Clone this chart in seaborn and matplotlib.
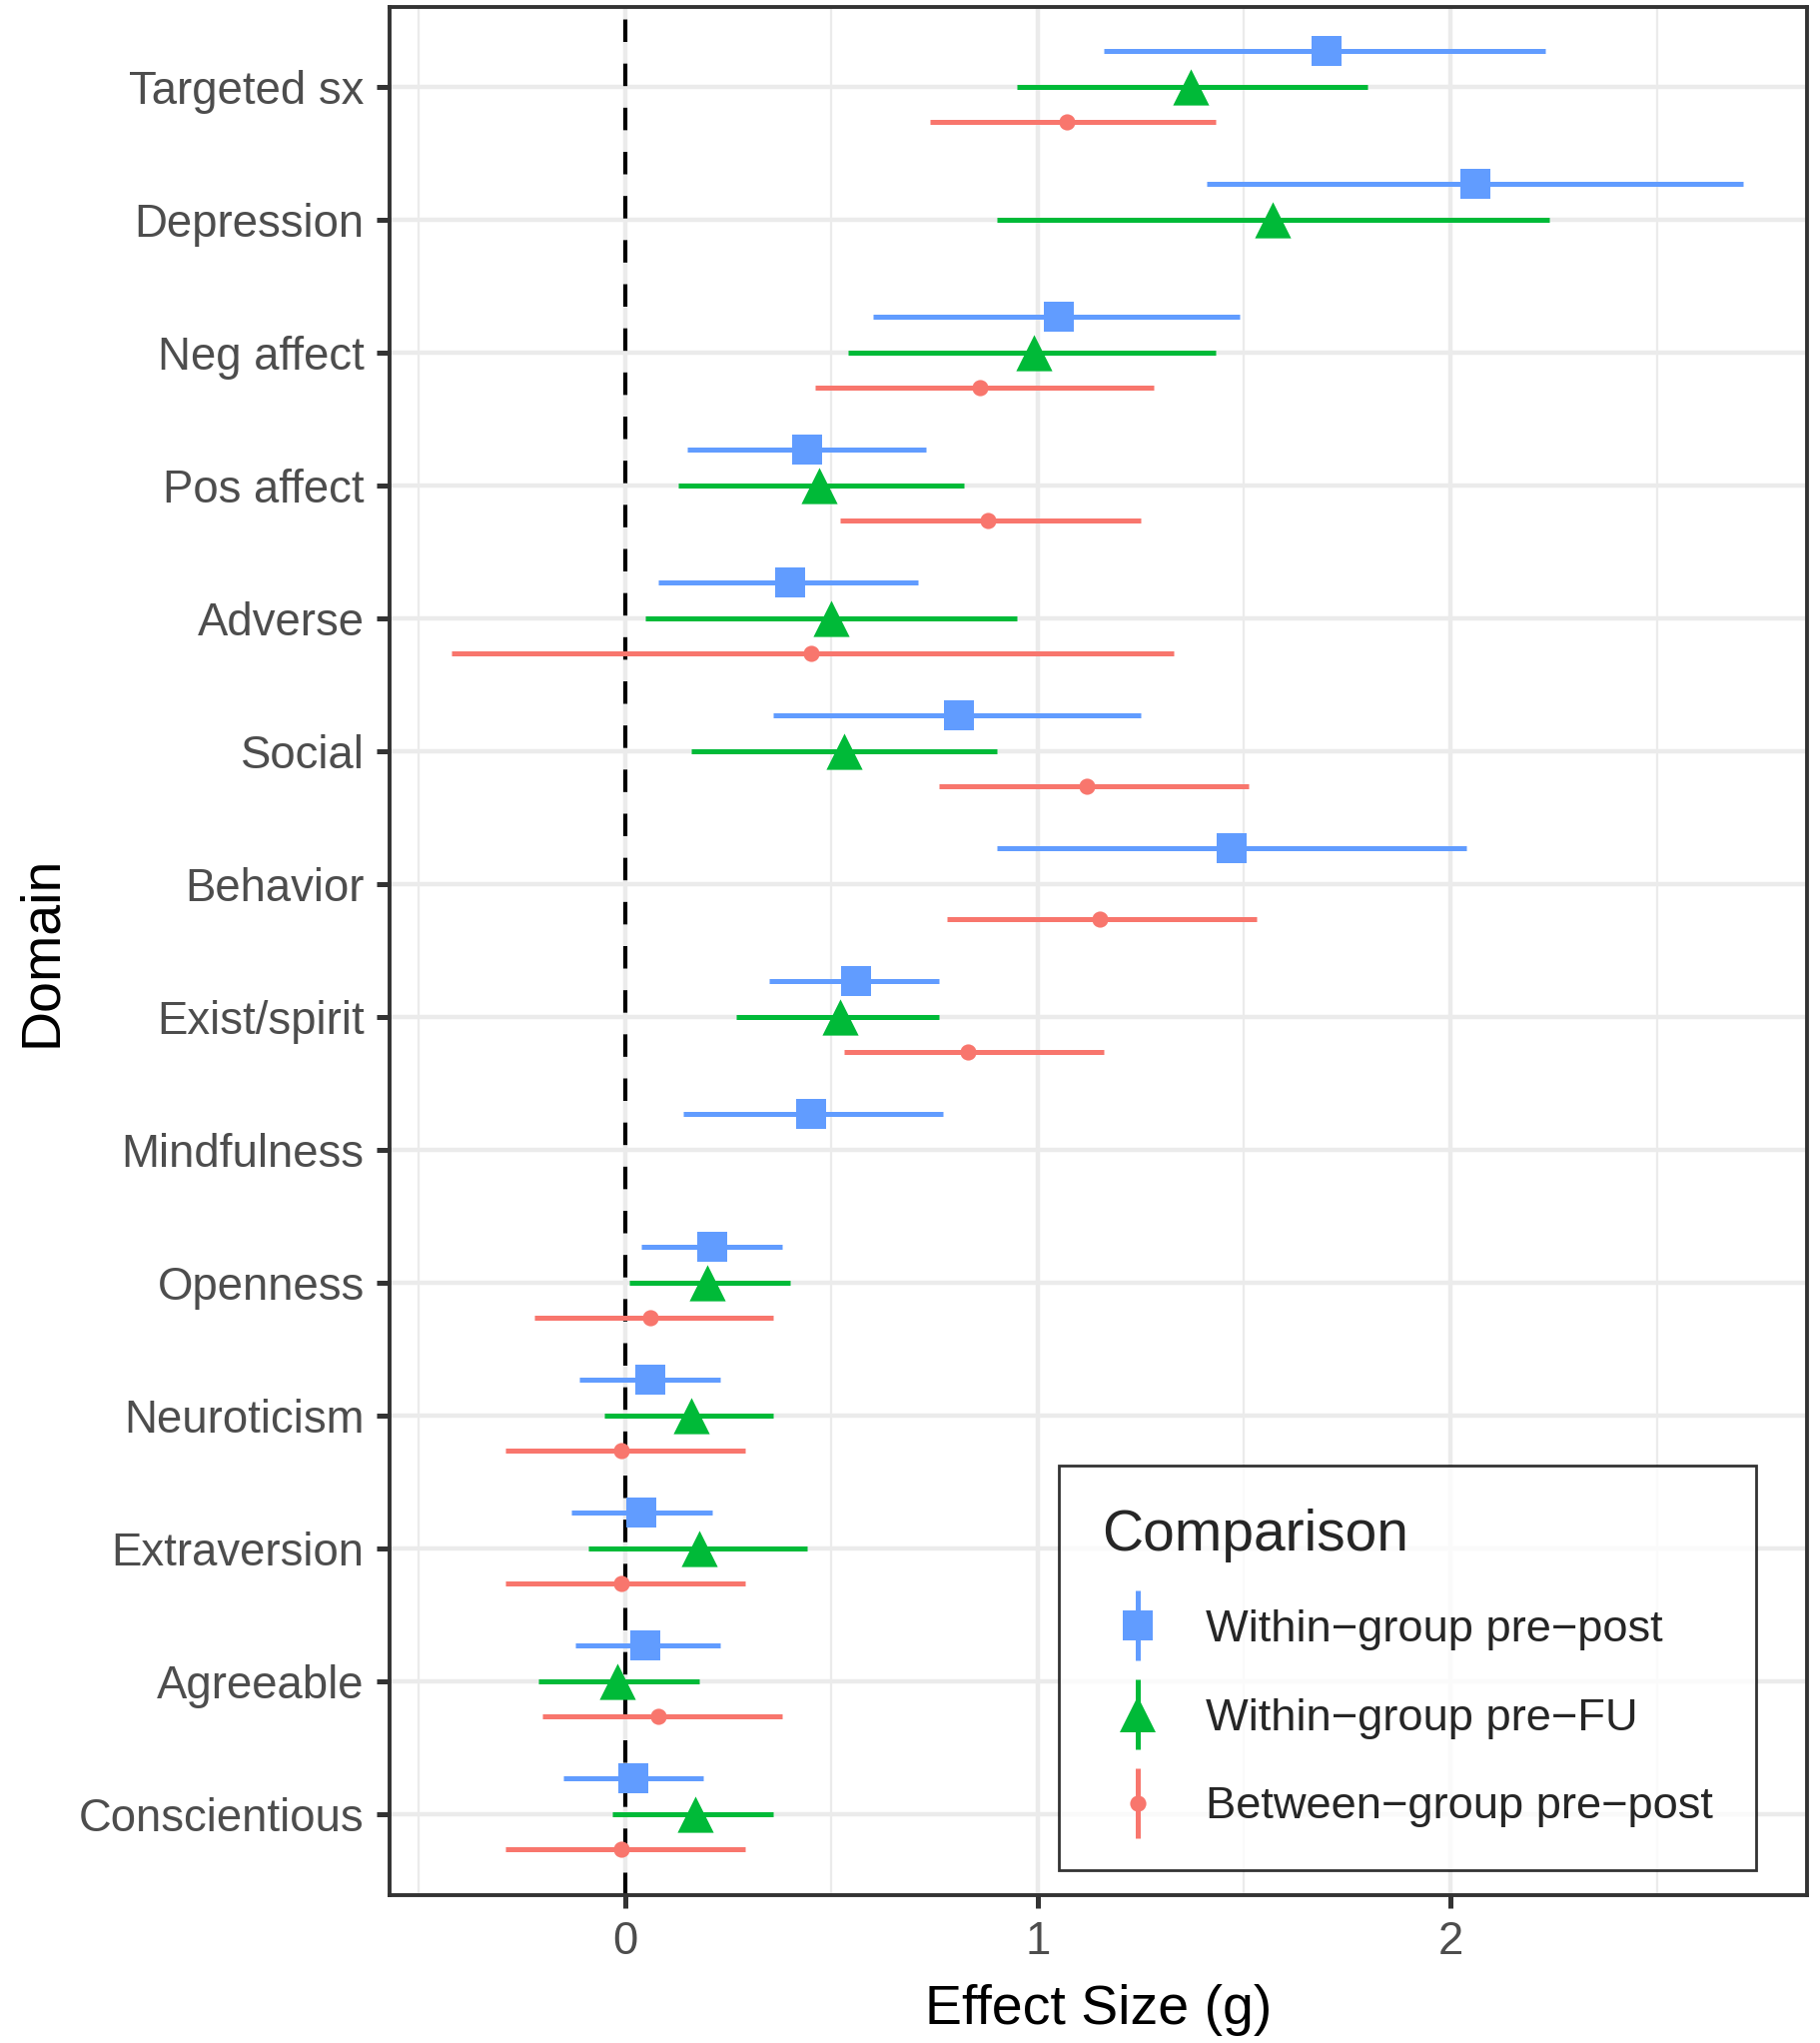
import numpy as np
import pandas as pd
import seaborn as sns
import matplotlib.pyplot as plt
from matplotlib.lines import Line2D
from matplotlib.ticker import MultipleLocator
from matplotlib.legend_handler import HandlerTuple

sns.set_theme(style="white")
plt.rcParams['font.family'] = ['Liberation Sans', 'DejaVu Sans']

nan = np.nan
domains = ["Targeted sx", "Depression", "Neg affect", "Pos affect", "Adverse", "Social",
           "Behavior", "Exist/spirit", "Mindfulness", "Openness", "Neuroticism",
           "Extraversion", "Agreeable", "Conscientious"]

# within-group pre-post
pp_g = [1.70, 2.06, 1.05, 0.44, 0.40, 0.81, 1.47, 0.56, 0.45, 0.21, 0.06, 0.04, 0.05, 0.02]
pp_lo = [1.16, 1.41, 0.60, 0.15, 0.08, 0.36, 0.90, 0.35, 0.14, 0.04, -0.11, -0.13, -0.12, -0.15]
pp_hi = [2.23, 2.71, 1.49, 0.73, 0.71, 1.25, 2.04, 0.76, 0.77, 0.38, 0.23, 0.21, 0.23, 0.19]

# within-group pre-FU
fu_g = [1.37, 1.57, 0.99, 0.47, 0.50, 0.53, nan, 0.52, nan, 0.20, 0.16, 0.18, -0.02, 0.17]
fu_lo = [0.95, 0.90, 0.54, 0.13, 0.05, 0.16, nan, 0.27, nan, 0.01, -0.05, -0.09, -0.21, -0.03]
fu_hi = [1.80, 2.24, 1.43, 0.82, 0.95, 0.90, nan, 0.76, nan, 0.40, 0.36, 0.44, 0.18, 0.36]

# between-group pre-post
bg_g = [1.07, nan, 0.86, 0.88, 0.45, 1.12, 1.15, 0.83, nan, 0.06, -0.01, -0.01, 0.08, -0.01]
bg_lo = [0.74, nan, 0.46, 0.52, -0.42, 0.76, 0.78, 0.53, nan, -0.22, -0.29, -0.29, -0.20, -0.29]
bg_hi = [1.43, nan, 1.28, 1.25, 1.33, 1.51, 1.53, 1.16, nan, 0.36, 0.29, 0.29, 0.38, 0.29]

comparisons = ["Within\u2212group pre\u2212post", "Within\u2212group pre\u2212FU",
               "Between\u2212group pre\u2212post"]
colors = ["#619CFF", "#00BA38", "#F8766D"]
markers = ["s", "^", "o"]
sizes = [120, 170, 34]
offsets = [-0.267, 0.0, 0.267]

rows = []
for comp, g, lo, hi, off in zip(comparisons, [pp_g, fu_g, bg_g], [pp_lo, fu_lo, bg_lo],
                                [pp_hi, fu_hi, bg_hi], offsets):
    for i, d in enumerate(domains):
        rows.append(dict(domain=d, comparison=comp, g=g[i], lo=lo[i], hi=hi[i], ypos=i + off))
df = pd.DataFrame(rows).dropna()

fig = plt.figure(figsize=(9.11, 10.225), dpi=200)
ax = fig.add_axes([0.214, 0.0724, 0.7788, 0.9242])

ax.axvline(0, color="black", lw=1.5, ls=(0, (5.4, 5.2)), zorder=2)

for comp, col, mk, s in zip(comparisons, colors, markers, sizes):
    sub = df[df["comparison"] == comp]
    ax.hlines(sub["ypos"], sub["lo"], sub["hi"], color=col, lw=1.8, zorder=3)
    sns.scatterplot(data=sub, x="g", y="ypos", marker=mk, s=s, color=col,
                    linewidth=0, legend=False, ax=ax, zorder=4)

ax.set_xlim(-0.571, 2.864)
ax.set_ylim(13.61, -0.6)
ax.set_yticks(range(len(domains)))
ax.set_yticklabels(domains)
ax.set_xticks([0, 1, 2])
ax.set_xticklabels(["0", "1", "2"])
ax.xaxis.set_minor_locator(MultipleLocator(0.5))

ax.grid(which="major", color="#EBEBEB", lw=1.6, zorder=0)
ax.grid(which="minor", axis="x", color="#EBEBEB", lw=0.8, zorder=0)
ax.set_axisbelow(True)
ax.tick_params(which="major", length=4.6, width=1.8, color="#333333",
               labelsize=16.4, labelcolor="#4D4D4D", pad=4.5, left=True, bottom=True)
ax.tick_params(which="minor", length=0)
for sp in ax.spines.values():
    sp.set_color("#333333")
    sp.set_linewidth(1.4)

ax.set_xlabel("Effect Size (g)", fontsize=20, color="black", labelpad=7)
ax.set_ylabel("Domain", fontsize=20, color="black", labelpad=4)

handles = []
for col, mk, s in zip(colors, markers, sizes):
    vline = Line2D([], [], marker="|", markersize=25, markeredgewidth=1.8,
                   color=col, linestyle="none")
    pt = Line2D([], [], marker=mk, markersize=np.sqrt(s), color=col,
                markeredgewidth=0, linestyle="none")
    handles.append((vline, pt))

leg = ax.legend(handles, comparisons, handler_map={tuple: HandlerTuple(ndivide=1, pad=0)},
                title="Comparison", loc="lower right", bbox_to_anchor=(0.964, 0.013),
                borderaxespad=0, fontsize=16.3, title_fontsize=20.5, frameon=True,
                fancybox=False, edgecolor="black", labelspacing=1.05, handlelength=1.6,
                handletextpad=0.7, borderpad=0.95)
leg.get_frame().set_linewidth(1.0)
leg._legend_box.align = "left"

fig.savefig("out.png", dpi=200)
